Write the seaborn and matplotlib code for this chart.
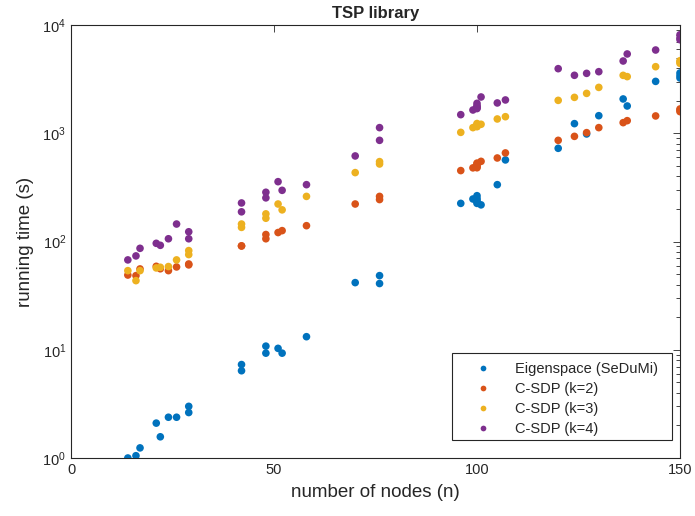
import numpy as np
import pandas as pd
import matplotlib
matplotlib.use("Agg")
import matplotlib.pyplot as plt
from matplotlib.patches import Rectangle
import seaborn as sns

# ---- data ----
nodes = [14, 16, 17, 21, 22, 24, 26, 29, 29,
         42, 42, 48, 48, 51, 52, 58, 70, 76, 76,
         96, 99, 100, 100, 100, 100, 100, 101, 105, 107,
         120, 124, 127, 130, 136, 137, 144, 150, 150, 150]

eigenspace = [1.0, 1.05, 1.24, 2.1, 1.57, 2.38, 2.38, 3.0, 2.63,
              7.3, 6.4, 10.8, 9.3, 10.3, 9.3, 13.2, 41.7, 48.4, 40.9,
              225, 247, 265, 250, 240, 232, 225, 218, 335, 567,
              726, 1227, 985, 1453, 2074, 1786, 3014, 3605, 3405, 3240]

csdp_k2 = [49, 48.4, 55.8, 59, 56, 53.8, 58.2, 60.8, 62,
           91, 91, 116, 106, 121, 126, 140, 222, 261, 244,
           452, 479, 520, 500, 490, 530, 480, 550, 591, 658,
           860, 936, 1013, 1127, 1253, 1307, 1445, 1676, 1583, 1630]

csdp_k3 = [53.8, 43.5, 53.8, 57, 57.8, 58.7, 67.6, 82.4, 75.7,
           145, 135, 180, 164, 222, 196, 261, 433, 547, 520,
           1019, 1127, 1180, 1150, 1200, 1230, 1160, 1210, 1355, 1422,
           2013, 2145, 2335, 2652, 3427, 3335, 4120, 4680, 4420, 4550]

csdp_k4 = [67.6, 73.6, 86.5, 96.2, 92.2, 106, 145, 123, 106,
           227, 188, 285, 253, 357, 297, 335, 617, 1127, 860,
           1485, 1640, 1690, 1750, 1800, 1890, 1720, 2163, 1905, 2030,
           3950, 3430, 3575, 3705, 4650, 5400, 5875, 8130, 7310, 7600]

labels = ["Eigenspace (SeDuMi)", "C-SDP (k=2)", "C-SDP (k=3)", "C-SDP (k=4)"]
colors = ["#0072BD", "#D95319", "#EDB120", "#7E2F8E"]

frames = []
for lab, vals in zip(labels, [eigenspace, csdp_k2, csdp_k3, csdp_k4]):
    frames.append(pd.DataFrame({"n": nodes, "time": vals, "method": lab}))
df = pd.concat(frames, ignore_index=True)

# ---- style ----
sns.set_style("white")
plt.rcParams["font.family"] = ["Liberation Sans", "DejaVu Sans"]
plt.rcParams["mathtext.default"] = "regular"

fig = plt.figure(figsize=(6.95, 5.16), dpi=100)
ax = fig.add_axes([71 / 695, 1 - 458 / 516, 609 / 695, 433 / 516])

sns.scatterplot(data=df, x="n", y="time", hue="method", hue_order=labels,
                palette=colors, s=30, linewidth=0, edgecolor="none",
                ax=ax, legend=True, zorder=3)

ax.set_yscale("log")
ax.set_xlim(0, 150)
ax.set_ylim(1, 1e4)
ax.set_xticks([0, 50, 100, 150])

axcol = "#262626"
for sp in ax.spines.values():
    sp.set_color(axcol)
    sp.set_linewidth(0.8)
ax.tick_params(which="both", direction="in", top=True, right=True,
               colors=axcol, labelcolor="#262626", labelsize=10.5, width=0.6)
ax.tick_params(which="major", length=5)
ax.tick_params(which="minor", length=3)
ax.tick_params(axis="x", which="minor", bottom=False, top=False)

ax.set_xlabel("number of nodes (n)", fontsize=13.5, color="#262626", labelpad=5)
ax.set_ylabel("running time (s)", fontsize=13.5, color="#262626", labelpad=6)
ax.set_title("TSP library", fontsize=12, fontweight="bold", pad=5)

# legend box frame (white background with dark border)
frame = Rectangle(((452 - 71) / 609, (458 - 440) / 433),
                  (672 - 452) / 609, (440 - 353) / 433,
                  transform=ax.transAxes, facecolor="white", edgecolor=axcol,
                  linewidth=0.8, zorder=4)
ax.add_patch(frame)

leg = ax.legend(loc="lower right", bbox_to_anchor=((665 - 71) / 609, (458 - 443) / 433),
                borderaxespad=0, frameon=False,
                fontsize=10.5, handletextpad=0.7, borderpad=0.5, labelspacing=0.4,
                handlelength=3.0, markerscale=0.75)
leg.set_zorder(5)

fig.savefig("out.png", dpi=100)
